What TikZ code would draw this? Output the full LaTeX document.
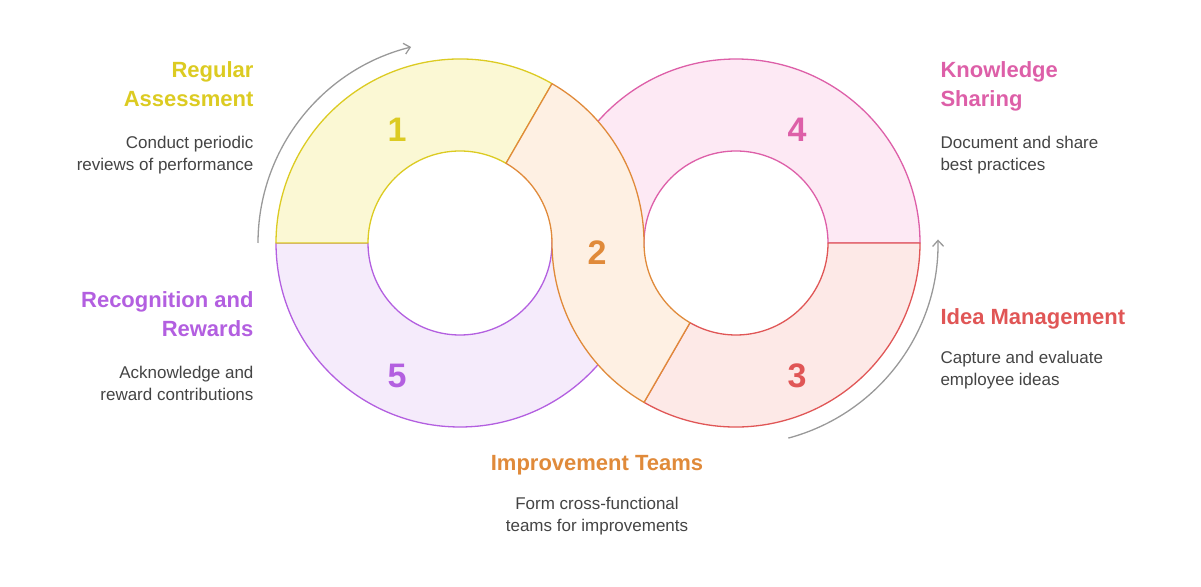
\documentclass[tikz,border=0pt]{standalone}
\usepackage{fontspec}
\setmainfont{Liberation Sans}
\usetikzlibrary{arrows.meta,calc}
\definecolor{yS}{HTML}{DCCB22}\definecolor{yF}{HTML}{FBF8D4}
\definecolor{oS}{HTML}{E08A3A}\definecolor{oF}{HTML}{FEF0E3}
\definecolor{rS}{HTML}{E05656}\definecolor{rF}{HTML}{FDE9E7}
\definecolor{pS}{HTML}{DD5FA8}\definecolor{pF}{HTML}{FDE9F4}
\definecolor{vS}{HTML}{B35FE0}\definecolor{vF}{HTML}{F5EBFB}
\definecolor{tx}{HTML}{444444}
\def\Ro{184}\def\Ri{92}
\newcommand{\seg}[5]{% center, a1, a2, stroke, fill
 \filldraw[draw=#4,fill=#5,line width=1.3pt,line join=round] ($#1+(#2:\Ro)$) arc[start angle=#2,end angle=#3,radius=\Ro] -- ($#1+(#3:\Ri)$) arc[start angle=#3,end angle=#2,radius=\Ri] -- cycle;}
\begin{document}
\begin{tikzpicture}[x=1pt,y=1pt,
 num/.style={font=\fontsize{34}{34}\selectfont\bfseries},
 ttl/.style={font=\fontsize{22}{29}\selectfont\bfseries},
 dsc/.style={font=\fontsize{17}{22}\selectfont,text=tx},
 garrow/.style={draw=gray!80,line width=1.3pt,-{Straight Barb[length=6pt,width=11pt]}}]
\useasboundingbox (0,0) rectangle (1201,586);
\coordinate (L) at (460,343);
\coordinate (R) at (736,343);
\seg{(R)}{0}{180}{pS}{pF}
\seg{(L)}{180}{360}{vS}{vF}
\seg{(L)}{60}{180}{yS}{yF}
\seg{(R)}{240}{360}{rS}{rF}
\filldraw[draw=oS,fill=oF,line width=1.3pt,line join=round]
 ($(L)+(60:\Ro)$) arc[start angle=60,end angle=0,radius=\Ro]
 arc[start angle=180,end angle=240,radius=\Ri]
 -- ($(R)+(240:\Ro)$) arc[start angle=240,end angle=180,radius=\Ro]
 arc[start angle=0,end angle=60,radius=\Ri] -- cycle;
\node[num,text=yS] (n1) at (397,456) {1};
\node[num,text=oS] (n2) at (597,333) {2};
\node[num,text=rS] (n3) at (797,210) {3};
\node[num,text=pS] (n4) at (797,456) {4};
\node[num,text=vS] (n5) at (397,210) {5};
\draw[garrow] ($(L)+(180:202)$) coordinate (a0) arc[start angle=180,end angle=104,radius=202];
\draw[garrow] ($(R)+(285:202)$) coordinate (b0) arc[start angle=285,end angle=361,radius=202];
\node[ttl,text=yS,align=right,anchor=north east] (t1) at (257,528) {Regular\\Assessment};
\node[dsc,align=right,anchor=north east] (d1) at (257,453) {Conduct periodic\\reviews of performance};
\node[ttl,text=vS,align=right,anchor=north east] (t5) at (257,298) {Recognition and\\Rewards};
\node[dsc,align=right,anchor=north east] (d5) at (257,223) {Acknowledge and\\reward contributions};
\node[ttl,text=pS,align=left,anchor=north west] (t4) at (937,528) {Knowledge\\Sharing};
\node[dsc,align=left,anchor=north west] (d4) at (937,453) {Document and share\\best practices};
\node[ttl,text=rS,align=left,anchor=north west] (t3) at (937,281) {Idea Management};
\node[dsc,align=left,anchor=north west] (d3) at (937,238) {Capture and evaluate\\employee ideas};
\node[ttl,text=oS] (t2) at (597,121) {Improvement Teams};
\node[dsc,align=center] (d2) at (597,70) {Form cross-functional\\teams for improvements};
\end{tikzpicture}
\end{document}
